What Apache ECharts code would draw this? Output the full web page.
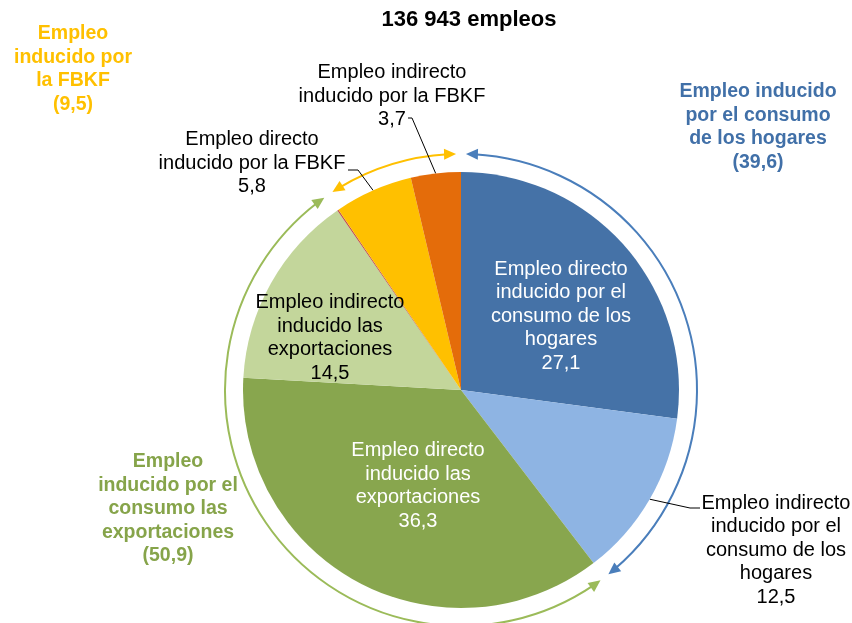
<!DOCTYPE html>
<html>
<head>
<meta charset="utf-8">
<script src="https://cdn.jsdelivr.net/npm/echarts@6/dist/echarts.min.js"></script>
<style>
  html, body { margin: 0; padding: 0; background: #fff; }
  #chart { width: 852px; height: 623px; }
</style>
</head>
<body>
<div id="chart"></div>
<script>
// slices, clockwise from the top
const sliceNames = [
  'Empleo directo\ninducido por el\nconsumo de los\nhogares',
  'Empleo indirecto\ninducido por el\nconsumo de los\nhogares',
  'Empleo directo\ninducido las\nexportaciones',
  'Empleo indirecto\ninducido las\nexportaciones',
  '',
  'Empleo directo\ninducido por la FBKF',
  'Empleo indirecto\ninducido por la FBKF'
]
const sliceValues = [27.1, 12.5, 36.3, 14.5, 0.1, 5.8, 3.7]
const sliceColors = ['#4572A7', '#8EB4E3', '#88A64E', '#C3D69B', '#C0504D', '#FFC000', '#E46C0A']

// groups, clockwise from the top
const groupNames = ['Empleo inducido\npor el consumo\nde los hogares', 'Empleo\ninducido por el\nconsumo las\nexportaciones', 'Empleo\ninducido por\nla FBKF']
const groupValues = [39.6, 50.9, 9.5]
const groupTextColors = ['#4170A8', '#86A44A', '#FFC000']
const groupArcColors = ['#4A7EBB', '#9BBB59', '#FFC000']

const titleText = '136 943 empleos'

const cx = 461, cy = 390, pieR = 218, arcR = 236
const fmt = v => String(v).replace('.', ',')

// label placement for each slice (center x, middle y, where, leader bend + end)
const labelPos = [
  [561, 316, 'inside'],
  [776, 550, 'outside', [[690, 508], [700, 508]]],
  [418, 486, 'inside'],
  [330, 338, 'inside'],
  null,
  [252, 163, 'outside', [[358, 170], [348, 170]]],
  [392, 96, 'outside', [[412, 118], [408, 118]]]
]
const labelColors = ['#fff', '#000', '#fff', '#000', '#000', '#000', '#000']

const chart = echarts.init(document.getElementById('chart'))

function pt (deg, r) {
  const a = deg * Math.PI / 180
  return [cx + r * Math.sin(a), cy - r * Math.cos(a)]
}
function arrowHead (deg, dir) {
  const L = 12, W = 5.5
  const tip = pt(deg, arcR)
  const a = deg * Math.PI / 180
  const t = [Math.cos(a) * dir, Math.sin(a) * dir]
  const n = [-t[1], t[0]]
  const b = [tip[0] - t[0] * L, tip[1] - t[1] * L]
  return [tip, [b[0] + n[0] * W, b[1] + n[1] * W], [b[0] - n[0] * W, b[1] - n[1] * W]]
}

const graphics = []
const total = groupValues.reduce((a, b) => a + b, 0)
let acc = 0
const gap = 1.2
groupValues.forEach((v, i) => {
  const d1 = acc / total * 360 + gap
  const d2 = (acc + v) / total * 360 - gap
  acc += v
  graphics.push({
    type: 'arc',
    shape: {
      cx: cx, cy: cy, r: arcR,
      startAngle: (d1 + 2 - 90) * Math.PI / 180,
      endAngle: (d2 - 2 - 90) * Math.PI / 180,
      clockwise: true
    },
    style: { stroke: groupArcColors[i], lineWidth: 2, fill: null },
    silent: true
  })
  graphics.push({ type: 'polygon', shape: { points: arrowHead(d1, -1) }, style: { fill: groupArcColors[i] }, silent: true })
  graphics.push({ type: 'polygon', shape: { points: arrowHead(d2, 1) }, style: { fill: groupArcColors[i] }, silent: true })
})

const groupLabelPos = [[758, 127], [168, 509], [73, 69]]
const titles = [{
  text: titleText,
  left: 469, top: 9, textAlign: 'center', padding: 0,
  textStyle: { fontFamily: 'Liberation Sans', fontSize: 22, fontWeight: 'bold', color: '#000' }
}]
groupNames.forEach((n, i) => {
  const lines = n.split('\n').length + 1
  titles.push({
    text: n + '\n(' + fmt(groupValues[i]) + ')',
    left: groupLabelPos[i][0],
    top: groupLabelPos[i][1] - lines * 23.5 / 2,
    textAlign: 'center',
    padding: 0,
    textStyle: {
      fontFamily: 'Liberation Sans', fontSize: 19.5, fontWeight: 'bold',
      color: groupTextColors[i], lineHeight: 23.5, align: 'center'
    }
  })
})

const data = sliceValues.map((v, i) => ({
  name: sliceNames[i],
  value: v,
  itemStyle: { color: sliceColors[i] },
  label: {
    show: labelPos[i] !== null,
    position: labelPos[i] ? labelPos[i][2] : 'inside',
    color: labelColors[i]
  },
  labelLine: { show: labelPos[i] !== null && labelPos[i][2] === 'outside' }
}))

const option = {
  animation: false,
  title: titles,
  graphic: graphics,
  series: [{
    type: 'pie',
    center: [cx, cy],
    radius: pieR,
    startAngle: 90,
    clockwise: true,
    data: data,
    label: {
      formatter: p => (p.name ? p.name + '\n' : '') + fmt(p.value),
      fontFamily: 'Liberation Sans',
      fontSize: 20,
      lineHeight: 23.5,
      align: 'center'
    },
    labelLine: {
      length: 20,
      length2: 10,
      lineStyle: { color: '#000', width: 1 }
    },
    labelLayout: function (p) {
      const lp = labelPos[p.dataIndex]
      if (!lp) return {}
      const res = { x: lp[0], y: lp[1], align: 'center', verticalAlign: 'middle', hideOverlap: false }
      if (lp[3] && p.labelLinePoints) {
        res.labelLinePoints = [p.labelLinePoints[0], lp[3][0], lp[3][1]]
      }
      return res
    }
  }]
}
chart.setOption(option)
</script>
</body>
</html>
